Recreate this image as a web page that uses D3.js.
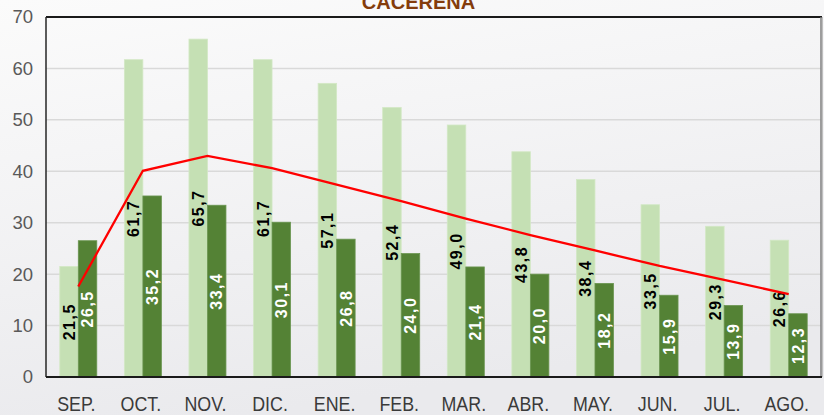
<!DOCTYPE html>
<html><head><meta charset="utf-8">
<script src="https://cdnjs.cloudflare.com/ajax/libs/d3/7.8.5/d3.min.js"></script>
<style>html,body{margin:0;padding:0;overflow:hidden;}svg{display:block;}</style>
</head><body>
<script>
const months = ["SEP.","OCT.","NOV.","DIC.","ENE.","FEB.","MAR.","ABR.","MAY.","JUN.","JUL.","AGO."];
const lightValues = [21.5,61.7,65.7,61.7,57.1,52.4,49.0,43.8,38.4,33.5,29.3,26.6];
const darkValues = [26.5,35.2,33.4,30.1,26.8,24.0,21.4,20.0,18.2,15.9,13.9,12.3];
const lineValues = [17.6,40.1,43.0,40.6,37.4,34.2,30.8,27.6,24.6,21.6,18.9,16.1];
const yTicks = [0,10,20,30,40,50,60,70];
const title = "CACEREÑA";

(function(){
const W = 824, H = 415;
const svg = d3.select("body").append("svg").attr("width", W).attr("height", H);
const defs = svg.append("defs");
const g = defs.append("linearGradient").attr("id","bg").attr("x1","0").attr("y1","0").attr("x2","0.3").attr("y2","1");
g.append("stop").attr("offset","0").attr("stop-color","#fbfbfb");
g.append("stop").attr("offset","1").attr("stop-color","#eaeaed");
svg.append("rect").attr("width",W).attr("height",H).attr("fill","url(#bg)");

const mLeft = 46, mRight = 821, mTop = 17, mBottom = 377;
const x = d3.scaleBand().domain(months).range([mLeft, mRight]).paddingInner(0.427).paddingOuter(0.2135);
const x1 = d3.scaleBand().domain(["light","dark"]).range([0, x.bandwidth()]);
const y = d3.scaleLinear().domain([0,70]).range([mBottom, mTop]);

// gridlines
svg.append("g").selectAll("line").data(yTicks.filter(t => t > 0 && t < 70)).join("line")
  .attr("x1", mLeft).attr("x2", mRight).attr("y1", d => y(d)).attr("y2", d => y(d))
  .attr("stroke", "#d9d9d9").attr("stroke-width", 1.5);

// y tick labels
svg.append("g").selectAll("text").data(yTicks).join("text")
  .attr("x", 33).attr("y", d => y(d)).attr("dy", "0.35em").attr("text-anchor","end")
  .attr("font-family","'Liberation Sans Narrow','Arial Narrow',sans-serif").attr("font-size", 18.5)
  .attr("fill","#595959").text(d => d);

// bars
const data = months.map((m,i) => ({m, light: lightValues[i], dark: darkValues[i]}));
const groups = svg.append("g").selectAll("g").data(data).join("g")
  .attr("transform", d => `translate(${x(d.m)},0)`);
groups.append("rect").attr("x", x1("light")).attr("width", x1.bandwidth())
  .attr("y", d => y(d.light)).attr("height", d => y(0) - y(d.light))
  .attr("fill", "#c5e0b4").attr("stroke","#d3e8c5").attr("stroke-width",0.8);
groups.append("rect").attr("x", x1("dark")).attr("width", x1.bandwidth())
  .attr("y", d => y(d.dark)).attr("height", d => y(0) - y(d.dark))
  .attr("fill", "#548235").attr("stroke","#6a9550").attr("stroke-width",0.8);

// line
const line = d3.line().x((d,i) => x(months[i]) + x.bandwidth()/2).y(d => y(d));
svg.append("path").datum(lineValues).attr("d", line).attr("fill","none")
  .attr("stroke","#ff0000").attr("stroke-width",2.3);

// data labels
function addLabels(key, color){
  groups.append("text")
    .attr("transform", d => `translate(${x1(key) + x1.bandwidth()/2},${(y(d[key]) + y(0))/2}) rotate(-90)`)
    .attr("text-anchor","middle").attr("dy","0.36em")
    .attr("font-family","'Liberation Sans',Arial,sans-serif").attr("font-weight","bold")
    .attr("font-size",16).attr("letter-spacing","1.5px").attr("fill", color)
    .text(d => d3.format(".1f")(d[key]).replace(".", ","));
}
addLabels("light", "#000000");
addLabels("dark", "#ffffff");

// frame
svg.append("line").attr("x1", mLeft).attr("x2", mRight + 1).attr("y1", mTop).attr("y2", mTop)
  .attr("stroke","#1a1a1a").attr("stroke-width",2);
svg.append("line").attr("x1", mRight).attr("x2", mRight).attr("y1", mTop).attr("y2", mBottom)
  .attr("stroke","#7f7f7f").attr("stroke-width",1.5);
svg.append("line").attr("x1", mRight + 1.5).attr("x2", mRight + 1.5).attr("y1", mTop).attr("y2", mBottom)
  .attr("stroke","#bfbfbf").attr("stroke-width",1);
svg.append("line").attr("x1", mLeft).attr("x2", mLeft).attr("y1", mTop).attr("y2", mBottom)
  .attr("stroke","#262626").attr("stroke-width",1.5);
svg.append("line").attr("x1", mLeft).attr("x2", mRight + 1).attr("y1", mBottom).attr("y2", mBottom)
  .attr("stroke","#1a1a1a").attr("stroke-width",2);

// x labels
svg.append("g").selectAll("text").data(months).join("text")
  .attr("transform", d => `translate(${x(d) + x.bandwidth()/2 - 2},411) scale(0.85,1)`)
  .attr("text-anchor","middle")
  .attr("font-family","'Liberation Sans Narrow','Arial Narrow',sans-serif").attr("font-size", 21)
  .attr("fill","#3a3a3a").text(d => d);

// title
svg.append("text").attr("x", 418.5).attr("y", 9).attr("text-anchor","middle")
  .attr("font-family","'Liberation Sans',Arial,sans-serif").attr("font-weight","bold")
  .attr("font-size",20).attr("fill","#843c0c").text(title);
})();
</script>
</body></html>
